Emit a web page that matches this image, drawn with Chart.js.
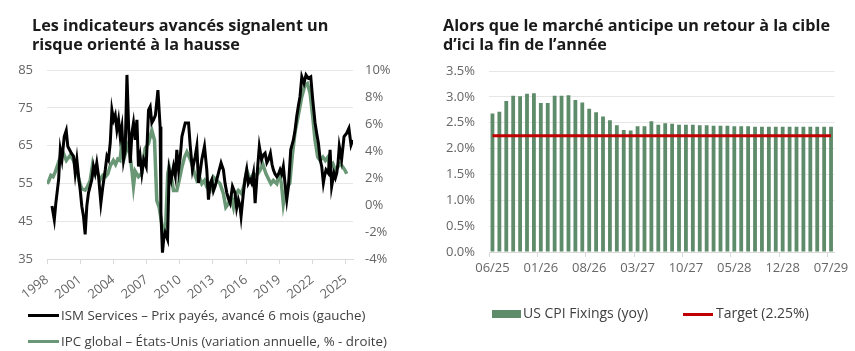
<!DOCTYPE html>
<html>
<head>
<meta charset="utf-8">
<script src="https://cdn.jsdelivr.net/npm/chart.js@4.4.1/dist/chart.umd.min.js"></script>
<style>
  body { margin: 0; background: #fff; font-family: "Open Sans", sans-serif; }
  #wrap { position: relative; width: 855px; height: 351px; overflow: hidden; }
  canvas { position: absolute; top: 0; }
  .title { position: absolute; top: 16px; font-size: 16.2px; font-weight: 700; line-height: 18.5px; color: #1a1a1a; white-space: nowrap; }
  .leg { position: absolute; font-size: 13.3px; line-height: 18px; color: #404040; white-space: nowrap; }
  .leg.r { font-size: 14px; }
  .sw { position: absolute; }
</style>
</head>
<body>
<div id="wrap">
  <canvas id="left" width="420" height="351" style="left:0"></canvas>
  <canvas id="right" width="435" height="351" style="left:420px"></canvas>

  <div class="title" style="left:32px">Les indicateurs avancés signalent un<br>risque orienté à la hausse</div>
  <div class="title" style="left:443px">Alors que le marché anticipe un retour à la cible<br>d’ici la fin de l’année</div>

  <div class="sw" style="left:28px;top:314px;width:31px;height:3px;background:#000"></div>
  <div class="leg" style="left:61px;top:306px">ISM Services – Prix payés, avancé 6 mois (gauche)</div>
  <div class="sw" style="left:28px;top:340px;width:31px;height:3px;background:#6a9775"></div>
  <div class="leg" style="left:61px;top:332px">IPC global – États-Unis (variation annuelle, % - droite)</div>

  <div class="sw" style="left:492px;top:310px;width:29px;height:8px;background:#5e8b69"></div>
  <div class="leg r" style="left:523px;top:304px">US CPI Fixings (yoy)</div>
  <div class="sw" style="left:683px;top:313px;width:30px;height:3px;background:#c00000"></div>
  <div class="leg r" style="left:716px;top:304px">Target (2.25%)</div>
</div>

<script>
// left chart: ISM prices paid (advanced 6 months) vs US CPI
var ismDates = [1998.45, 1998.66, 1998.8, 1999.05, 1999.2, 1999.35, 1999.56, 1999.74, 1999.88, 2000.04,
  2000.2, 2000.4, 2000.55, 2000.7, 2000.85, 2001.0, 2001.15, 2001.3, 2001.45, 2001.6,
  2001.75, 2001.9, 2002.05, 2002.2, 2002.35, 2002.5, 2002.66, 2002.87, 2003.05, 2003.27,
  2003.42, 2003.56, 2003.72, 2003.87, 2004.02, 2004.17, 2004.32, 2004.47, 2004.62, 2004.77,
  2004.92, 2005.07, 2005.23, 2005.38, 2005.53, 2005.68, 2005.82, 2005.98, 2006.13, 2006.27,
  2006.42, 2006.58, 2006.75, 2006.97, 2007.18, 2007.33, 2007.48, 2007.63, 2007.8, 2008.03,
  2008.23, 2008.3, 2008.44, 2008.56, 2008.68, 2008.9, 2009.05, 2009.23, 2009.44, 2009.6,
  2009.74, 2009.9, 2010.05, 2010.2, 2010.5, 2010.8, 2010.95, 2011.15, 2011.4, 2011.55,
  2011.7, 2011.85, 2012.0, 2012.24, 2012.45, 2012.6, 2012.75, 2012.9, 2013.05, 2013.2,
  2013.35, 2013.5, 2013.74, 2013.95, 2014.1, 2014.26, 2014.4, 2014.56, 2014.77, 2015.0,
  2015.15, 2015.3, 2015.45, 2015.55, 2015.76, 2015.9, 2016.06, 2016.2, 2016.36, 2016.5,
  2016.67, 2016.82, 2017.03, 2017.2, 2017.4, 2017.55, 2017.72, 2017.88, 2018.02, 2018.2,
  2018.35, 2018.47, 2018.62, 2018.78, 2018.93, 2019.08, 2019.22, 2019.37, 2019.52, 2019.68,
  2019.83, 2020.04, 2020.28, 2020.43, 2020.58, 2020.73, 2020.88, 2021.04, 2021.24, 2021.42,
  2021.63, 2021.85, 2022.03, 2022.24, 2022.4, 2022.54, 2022.7, 2022.84, 2022.99, 2023.1,
  2023.23, 2023.44, 2023.6, 2023.74, 2023.95, 2024.08, 2024.2, 2024.32, 2024.43, 2024.64,
  2024.86, 2025.1, 2025.3, 2025.49, 2025.64];
var ismValues = [49, 45.4, 49.8, 56, 63.9, 61.3, 67.4, 69, 64.8, 63.9,
  63, 62.2, 57.7, 61.3, 56.9, 53.3, 48.9, 46.3, 41.5, 49,
  52.5, 54.2, 56, 59.5, 57.7, 60.4, 56.9, 49.8, 54.2, 58.6,
  62.2, 61.3, 65.7, 74.4, 71.8, 73.1, 69.2, 71.8, 67.4, 70,
  61.3, 63.9, 83.7, 70, 60.4, 68.3, 71, 66.5, 71.8, 59.5,
  62.2, 57.7, 61.3, 59.5, 74.4, 75.3, 71, 71.8, 73, 79.7,
  70, 47.3, 36.7, 40.5, 42, 40.2, 58.6, 56, 59.5, 57,
  63.9, 58.6, 62, 67.4, 71, 71, 65, 58.6, 62.1, 64.8,
  55.1, 58, 61.3, 64.8, 58.6, 50.7, 55, 56, 53, 54.2,
  56, 57.7, 60.4, 58.6, 55, 52.5, 51, 49.8, 54.2, 52.5,
  48.5, 50.7, 49, 46.3, 52.5, 56, 58.6, 55, 56, 55.1,
  57.7, 49.8, 58.6, 64.8, 61.3, 62.5, 63, 60.5, 61.3, 63,
  60, 58.6, 57.5, 56.8, 57.5, 58.6, 57.5, 59.5, 55.1, 50.7,
  54.2, 63.9, 66.5, 69, 72.7, 75.5, 78, 83.2, 81.5, 83.7,
  82.8, 83.2, 77.1, 71, 68, 65.7, 61.3, 59.5, 55.1, 57,
  58.6, 57.7, 63.9, 54.2, 57.7, 56.5, 57.7, 60.5, 64.8, 61.3,
  67.4, 68.3, 69.6, 65.2, 66.5];

var ipcDates = [1998.0, 1998.15, 1998.35, 1998.55, 1998.75, 1998.9, 1999.2, 1999.5, 1999.75, 2000.1,
  2000.4, 2000.7, 2000.9, 2001.15, 2001.45, 2001.65, 2001.9, 2002.12, 2002.3, 2002.5,
  2002.8, 2003.05, 2003.3, 2003.5, 2003.72, 2004.0, 2004.2, 2004.4, 2004.6, 2004.77,
  2004.95, 2005.17, 2005.35, 2005.53, 2005.7, 2005.82, 2005.98, 2006.27, 2006.57, 2006.75,
  2006.88, 2007.18, 2007.48, 2007.72, 2007.93, 2008.14, 2008.38, 2008.59, 2008.74, 2008.92,
  2009.04, 2009.29, 2009.44, 2009.74, 2009.95, 2010.2, 2010.44, 2010.65, 2010.86, 2011.1,
  2011.34, 2011.55, 2011.78, 2012.0, 2012.24, 2012.45, 2012.75, 2013.05, 2013.35, 2013.65,
  2013.95, 2014.17, 2014.4, 2014.65, 2014.86, 2015.08, 2015.3, 2015.6, 2015.85, 2016.06,
  2016.36, 2016.67, 2016.97, 2017.27, 2017.5, 2017.8, 2018.02, 2018.25, 2018.47, 2018.78,
  2019.02, 2019.2, 2019.37, 2019.52, 2019.7, 2019.95, 2020.2, 2020.43, 2020.73, 2021.04,
  2021.33, 2021.55, 2021.79, 2022.03, 2022.24, 2022.48, 2022.7, 2022.95, 2023.17, 2023.4,
  2023.6, 2023.85, 2024.08, 2024.3, 2024.52, 2024.75, 2024.95, 2025.1];
var ipcValues = [1.58, 1.75, 2.2, 2.1, 2.45, 2.8, 3.55, 3.8, 3.3, 3.68,
  3.3, 2.6, 1.8, 1.2, 1.1, 1.35, 1.8, 3.0, 2.3, 2.5,
  1.85, 2.2, 2.1, 2.3, 2.9, 3.3, 3.0, 3.4, 3.3, 4.6,
  3.4, 4.06, 4.5, 3.55, 2.4, 1.4, 2.5, 2.1, 2.35, 3.6,
  4.2, 4.55, 5.54, 4.8, 0.33, -0.16, -1.4, -2.14, -1.4, 2.32,
  2.81, 1.82, 1.08, 1.08, 1.82, 2.81, 3.55, 3.93, 3.55, 3.06,
  2.32, 1.82, 2.07, 1.58, 1.82, 1.33, 1.08, 2.07, 1.82, 1.58,
  0.83, -0.16, 0.09, 0.58, -0.16, 0.83, 1.08, 0.83, 1.58, 2.57,
  1.9, 2.3, 2.2, 2.57, 3.06, 2.32, 1.95, 1.58, 1.82, 1.58,
  2.32, 1.58, 0.09, 0.83, 1.33, 1.58, 3.8, 5.41, 6.65, 8.02,
  8.88, 9.0, 8.27, 6.53, 4.8, 3.55, 3.3, 3.55, 3.3, 3.55,
  2.81, 3.06, 2.57, 2.81, 3.06, 2.81, 2.57, 2.32];

// right chart: CPI fixings
var fixingLabels = ['06/25', '07/25', '08/25', '09/25', '10/25', '11/25', '12/25',
  '01/26', '02/26', '03/26', '04/26', '05/26', '06/26', '07/26',
  '08/26', '09/26', '10/26', '11/26', '12/26', '01/27', '02/27',
  '03/27', '04/27', '05/27', '06/27', '07/27', '08/27', '09/27',
  '10/27', '11/27', '12/27', '01/28', '02/28', '03/28', '04/28',
  '05/28', '06/28', '07/28', '08/28', '09/28', '10/28', '11/28',
  '12/28', '01/29', '02/29', '03/29', '04/29', '05/29', '06/29',
  '07/29'];
var fixingValues = [2.68, 2.71, 2.92, 3.02, 3.01, 3.06, 3.07,
  2.88, 2.88, 3.02, 3.02, 3.03, 2.94, 2.89,
  2.77, 2.70, 2.62, 2.55, 2.45, 2.36, 2.35,
  2.43, 2.43, 2.53, 2.46, 2.49, 2.48, 2.46,
  2.46, 2.46, 2.45, 2.45, 2.44, 2.44, 2.44,
  2.43, 2.43, 2.43, 2.42, 2.42, 2.42, 2.42,
  2.42, 2.42, 2.42, 2.42, 2.42, 2.42, 2.42,
  2.42];
var targetValue = 2.25;

var tickFont = { family: 'Open Sans', size: 13 };
var tickColor = '#666666';
var gridColor = '#e6e6e6';
var axisColor = '#d9d9d9';

new Chart(document.getElementById('left').getContext('2d'), {
  type: 'line',
  data: {
    datasets: [{
      label: 'ISM Services – Prix payés, avancé 6 mois (gauche)',
      data: ismDates.map(function (d, i) { return { x: d, y: ismValues[i] }; }),
      yAxisID: 'y',
      borderColor: '#000000',
      borderWidth: 3,
      pointRadius: 0,
      tension: 0
    }, {
      label: 'IPC global – États-Unis (variation annuelle, % - droite)',
      data: ipcDates.map(function (d, i) { return { x: d, y: ipcValues[i] }; }),
      yAxisID: 'y1',
      borderColor: '#6a9775',
      borderWidth: 3.5,
      pointRadius: 0,
      tension: 0
    }]
  },
  options: {
    responsive: false,
    animation: false,
    layout: { padding: { top: 70, left: 0, right: 0, bottom: 0 } },
    plugins: { legend: { display: false }, tooltip: { enabled: false } },
    scales: {
      x: {
        type: 'linear',
        min: 1998,
        max: 2025.67,
        ticks: {
          stepSize: 3, includeBounds: false, autoSkip: false,
          maxRotation: 38, minRotation: 38,
          color: tickColor, font: tickFont, padding: 8,
          callback: function (v) { return String(v); }
        },
        grid: { drawOnChartArea: false, tickLength: 5, color: axisColor },
        border: { color: axisColor },
        afterFit: function (s) { s.height = 92; }
      },
      y: {
        position: 'left',
        min: 35, max: 85,
        ticks: { stepSize: 10, color: tickColor, font: tickFont, padding: 14 },
        grid: { color: gridColor, drawTicks: false },
        border: { display: false },
        afterFit: function (s) { s.width = 47; }
      },
      y1: {
        position: 'right',
        min: -4, max: 10,
        ticks: { stepSize: 2, color: tickColor, font: tickFont, padding: 12,
          callback: function (v) { return v + '%'; } },
        grid: { drawOnChartArea: false, drawTicks: false },
        border: { display: false },
        afterFit: function (s) { s.width = 67; }
      }
    }
  }
});

new Chart(document.getElementById('right').getContext('2d'), {
  type: 'bar',
  data: {
    labels: fixingLabels,
    datasets: [{
      type: 'line',
      label: 'Target (2.25%)',
      data: [{ x: fixingLabels[0], y: targetValue }, { x: fixingLabels[fixingLabels.length - 1], y: targetValue }],
      borderColor: '#c00000',
      borderWidth: 3,
      pointRadius: 0,
      order: 0
    }, {
      label: 'US CPI Fixings (yoy)',
      data: fixingValues,
      backgroundColor: '#5e8b69',
      categoryPercentage: 1,
      barPercentage: 0.55,
      order: 1
    }]
  },
  options: {
    responsive: false,
    animation: false,
    layout: { padding: { top: 71, left: 0, right: 20.5, bottom: 0 } },
    plugins: { legend: { display: false }, tooltip: { enabled: false } },
    scales: {
      x: {
        offset: true,
        ticks: {
          autoSkip: false, maxRotation: 0, color: tickColor, font: tickFont, padding: 3,
          callback: function (v, i) { return i % 7 === 0 ? this.getLabelForValue(v) : ''; }
        },
        grid: {
          offset: true, drawOnChartArea: false, tickLength: 5,
          tickColor: function (c) { return c.index % 7 === 0 ? axisColor : 'rgba(0,0,0,0)'; }
        },
        border: { color: axisColor },
        afterFit: function (s) { s.height = 99; }
      },
      y: {
        min: 0, max: 3.5,
        ticks: { stepSize: 0.5, color: tickColor, font: tickFont, padding: 14,
          callback: function (v) { return v.toFixed(1) + '%'; } },
        grid: { color: gridColor, drawTicks: false },
        border: { display: false },
        afterFit: function (s) { s.width = 69; }
      }
    }
  }
});
</script>
</body>
</html>
